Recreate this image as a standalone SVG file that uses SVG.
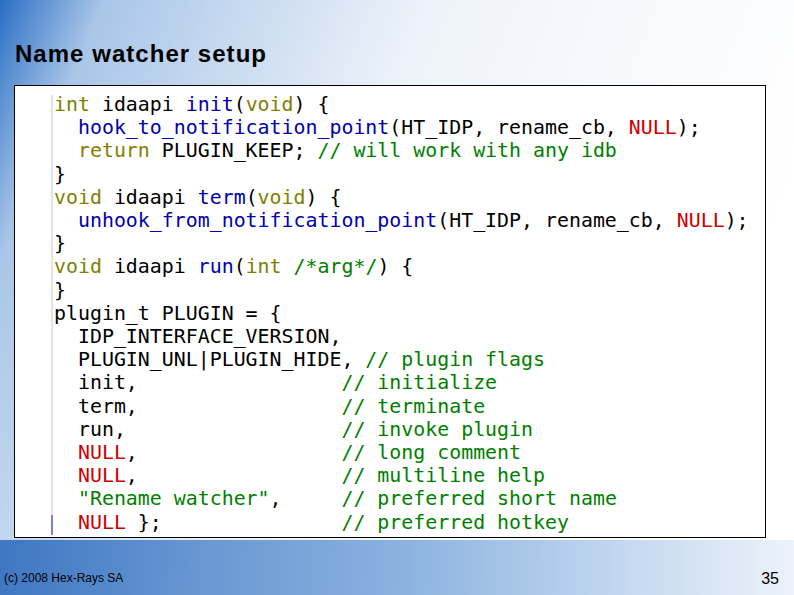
<svg xmlns="http://www.w3.org/2000/svg" width="794" height="595" viewBox="0 0 794 595">
<defs>
<linearGradient id="bg" x1="0" y1="0" x2="1" y2="0.3">
<stop offset="0" stop-color="#2a6ec4"/>
<stop offset="0.12" stop-color="#a9c6e8"/>
<stop offset="0.5" stop-color="#eef3fa"/>
<stop offset="1" stop-color="#ffffff"/>
</linearGradient>
<linearGradient id="bot" x1="0" y1="0" x2="1" y2="0">
<stop offset="0" stop-color="#1e5fb8"/>
<stop offset="0.5" stop-color="#6fa0d8"/>
<stop offset="1" stop-color="#e8f0fa"/>
</linearGradient>
<style>
.c{font-family:"DejaVu Sans Mono","Liberation Mono",monospace;font-size:19.9px;fill:#000;white-space:pre}
.k{fill:#808000}.f{fill:#0000b0}.n{fill:#d00000}.g{fill:#008000}
</style>
</defs>
<rect width="794" height="595" fill="url(#bg)"/>
<rect x="0" y="540" width="794" height="55" fill="url(#bot)" opacity="0.8"/>
<text x="15" y="62" font-family="Liberation Sans,Arial,sans-serif" font-size="24" font-weight="bold" fill="#000" textLength="251">Name watcher setup</text>
<g id="codebox">
<rect x="14.5" y="85.5" width="751" height="452" fill="#fff" stroke="#000" stroke-width="1"/>
<line x1="52" y1="95" x2="52" y2="515" stroke="#c8c8c8"/>
<line x1="52" y1="515" x2="52" y2="535" stroke="#0000a0"/>
<text class="c" xml:space="preserve">
<tspan x="54" y="111"><tspan class="k">int</tspan> idaapi <tspan class="f">init</tspan>(<tspan class="k">void</tspan>) {</tspan>
<tspan x="54" y="134.2">  <tspan class="f">hook_to_notification_point</tspan>(HT_IDP, rename_cb, <tspan class="n">NULL</tspan>);</tspan>
<tspan x="54" y="157.4">  <tspan class="k">return</tspan> PLUGIN_KEEP; <tspan class="g">// will work with any idb</tspan></tspan>
<tspan x="54" y="180.6">}</tspan>
<tspan x="54" y="203.8"><tspan class="k">void</tspan> idaapi <tspan class="f">term</tspan>(<tspan class="k">void</tspan>) {</tspan>
<tspan x="54" y="227">  <tspan class="f">unhook_from_notification_point</tspan>(HT_IDP, rename_cb, <tspan class="n">NULL</tspan>);</tspan>
<tspan x="54" y="250.2">}</tspan>
<tspan x="54" y="273.4"><tspan class="k">void</tspan> idaapi <tspan class="f">run</tspan>(<tspan class="k">int</tspan> <tspan class="g">/*arg*/</tspan>) {</tspan>
<tspan x="54" y="296.6">}</tspan>
<tspan x="54" y="319.8">plugin_t PLUGIN = {</tspan>
<tspan x="54" y="343">  IDP_INTERFACE_VERSION,</tspan>
<tspan x="54" y="366.2">  PLUGIN_UNL|PLUGIN_HIDE, <tspan class="g">// plugin flags</tspan></tspan>
<tspan x="54" y="389.4">  init,                 <tspan class="g">// initialize</tspan></tspan>
<tspan x="54" y="412.6">  term,                 <tspan class="g">// terminate</tspan></tspan>
<tspan x="54" y="435.8">  run,                  <tspan class="g">// invoke plugin</tspan></tspan>
<tspan x="54" y="459">  <tspan class="n">NULL</tspan>,                 <tspan class="g">// long comment</tspan></tspan>
<tspan x="54" y="482.2">  <tspan class="n">NULL</tspan>,                 <tspan class="g">// multiline help</tspan></tspan>
<tspan x="54" y="505.4">  <tspan class="g">"Rename watcher"</tspan>,     <tspan class="g">// preferred short name</tspan></tspan>
<tspan x="54" y="528.6">  <tspan class="n">NULL</tspan> };               <tspan class="g">// preferred hotkey</tspan></tspan>
</text>
</g>
<text x="4" y="582" font-family="Liberation Sans,Arial,sans-serif" font-size="12" fill="#000">(c) 2008 Hex-Rays SA</text>
<text x="779" y="584" text-anchor="end" font-family="Liberation Sans,Arial,sans-serif" font-size="16" fill="#000">35</text>
</svg>
